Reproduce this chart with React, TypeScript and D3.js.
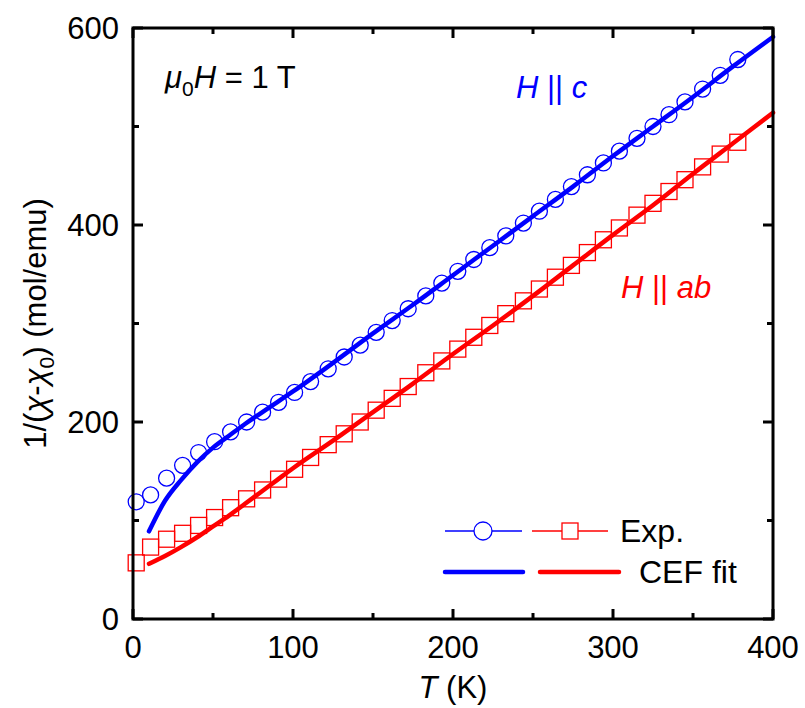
import React from 'react';
import * as d3 from 'd3';

// measured temperatures (K), same grid for both field directions
const tempExp = [2, 11, 21, 31, 41, 51, 61, 71, 81, 91, 101, 111, 122, 132, 142, 152, 162, 172, 183, 193,
  203, 213, 223, 233, 244, 254, 264, 274, 284, 294, 304, 315, 325, 335, 345, 356, 367, 378];

// 1/(chi - chi0), H || c (blue circles)
const invChiC = [119, 126, 143, 156, 169, 180, 190, 200, 210, 220, 230, 241, 254, 266, 278, 291, 303, 315, 328, 341,
  353, 365, 377, 389, 402, 414, 426, 439, 451, 463, 475, 488, 500, 512, 525, 538, 552, 568];

// 1/(chi - chi0), H || ab (red squares)
const invChiAB = [57, 73, 81, 87, 95, 103, 113, 122, 131, 142, 152, 164, 177, 188, 200, 212, 224, 236, 250, 262,
  274, 286, 298, 310, 323, 335, 347, 359, 372, 385, 397, 410, 422, 434, 446, 459, 472, 484];

// CEF fit curves
const tempFit = [10, 20, 30, 40, 50, 60, 70, 80, 90, 100, 125, 150, 175, 200, 225, 250, 275, 300, 325, 350, 375, 400];
const fitC = [89, 120, 141, 159, 174, 186, 198, 209, 220, 231, 260, 290, 319, 349, 379, 409, 439, 470, 500, 530, 561, 591];
const fitAB = [56, 64, 73, 83, 94, 105, 117, 129, 141, 153, 181, 210, 239, 269, 298, 328, 359, 390, 420, 452, 483, 514];

const xTicks = [0, 100, 200, 300, 400];
const yTicks = [0, 200, 400, 600];

const W = 805;
const H = 708;
const left = 133, right = 773, top = 28, bottom = 619;
const font = '"Liberation Sans", Arial, sans-serif';
const BLUE = '#0000ff';
const RED = '#ff0000';

const App = () => {
  const x = d3.scaleLinear().domain([0, 400]).range([left, right]);
  const y = d3.scaleLinear().domain([0, 600]).range([bottom, top]);

  const line = d3.line<number>()
    .x((d, i) => x(tempFit[i]))
    .y(d => y(d))
    .curve(d3.curveMonotoneX);

  const xMinor = d3.range(0, 401, 50);
  const yMinor = d3.range(0, 601, 100);

  return (
    <svg width={W} height={H} style={{ position: 'absolute', left: 0, top: 0, background: '#fff' }}
      fontFamily={font}>
      {/* data markers */}
      {tempExp.map((t, i) => (
        <circle key={'c' + i} cx={x(t)} cy={y(invChiC[i])} r={8} fill="none" stroke={BLUE} strokeWidth={1.3} />
      ))}
      {tempExp.map((t, i) => (
        <rect key={'s' + i} x={x(t) - 8} y={y(invChiAB[i]) - 8} width={16} height={16}
          fill="none" stroke={RED} strokeWidth={1.3} />
      ))}
      {/* fit lines */}
      <path d={line(fitC) || ''} fill="none" stroke={BLUE} strokeWidth={4.5} strokeLinecap="round" />
      <path d={line(fitAB) || ''} fill="none" stroke={RED} strokeWidth={4.5} strokeLinecap="round" />

      {/* frame */}
      <rect x={left} y={top} width={right - left} height={bottom - top} fill="none" stroke="#000" strokeWidth={3} />

      {/* ticks */}
      {xMinor.map(t => {
        const len = t % 100 === 0 ? 10 : 6;
        return (
          <g key={'xt' + t} stroke="#000" strokeWidth={3}>
            <line x1={x(t)} x2={x(t)} y1={bottom} y2={bottom - len} />
            <line x1={x(t)} x2={x(t)} y1={top} y2={top + len} />
          </g>
        );
      })}
      {yMinor.map(v => {
        const len = v % 200 === 0 ? 10 : 6;
        return (
          <g key={'yt' + v} stroke="#000" strokeWidth={3}>
            <line x1={left} x2={left + len} y1={y(v)} y2={y(v)} />
            <line x1={right} x2={right - len} y1={y(v)} y2={y(v)} />
          </g>
        );
      })}
      {xTicks.map(t => (
        <text key={'xl' + t} x={x(t)} y={658} fontSize={31} textAnchor="middle">{t}</text>
      ))}
      {yTicks.map(v => (
        <text key={'yl' + v} x={119} y={y(v) + 11} fontSize={31} textAnchor="end">{v}</text>
      ))}

      {/* axis titles */}
      <text x={(left + right) / 2} y={698} fontSize={31} textAnchor="middle">
        <tspan fontStyle="italic">T</tspan> (K)
      </text>
      <text transform={`translate(46, ${(top + bottom) / 2}) rotate(-90)`} fontSize={31} textAnchor="middle">
        1/(<tspan fontStyle="italic">χ</tspan>-<tspan fontStyle="italic">χ</tspan>
        <tspan fontSize={21} dy={8}>0</tspan><tspan dy={-8}>) (mol/emu)</tspan>
      </text>

      {/* annotations */}
      <text x={165} y={88} fontSize={31}>
        <tspan fontStyle="italic">μ</tspan><tspan fontSize={21} dy={8}>0</tspan>
        <tspan dy={-8} fontStyle="italic">H</tspan> = 1 T
      </text>
      <text x={516} y={98} fontSize={31} fill={BLUE}>
        <tspan fontStyle="italic">H</tspan> || <tspan fontStyle="italic">c</tspan>
      </text>
      <text x={621} y={298} fontSize={31} fill={RED}>
        <tspan fontStyle="italic">H</tspan> || <tspan fontStyle="italic">ab</tspan>
      </text>

      {/* legend */}
      <g>
        <line x1={445} x2={522} y1={531} y2={531} stroke={BLUE} strokeWidth={1.3} />
        <circle cx={483} cy={531} r={9} fill="#fff" stroke={BLUE} strokeWidth={1.3} />
        <line x1={532} x2={608} y1={531} y2={531} stroke={RED} strokeWidth={1.3} />
        <rect x={562} y={523} width={16} height={16} fill="#fff" stroke={RED} strokeWidth={1.3} />
        <text x={620} y={542} fontSize={32}>Exp.</text>
        <line x1={445} x2={523} y1={572} y2={572} stroke={BLUE} strokeWidth={4.5} strokeLinecap="round" />
        <line x1={540} x2={619} y1={572} y2={572} stroke={RED} strokeWidth={4.5} strokeLinecap="round" />
        <text x={639} y={583} fontSize={32}>CEF fit</text>
      </g>
    </svg>
  );
};

export default App;
